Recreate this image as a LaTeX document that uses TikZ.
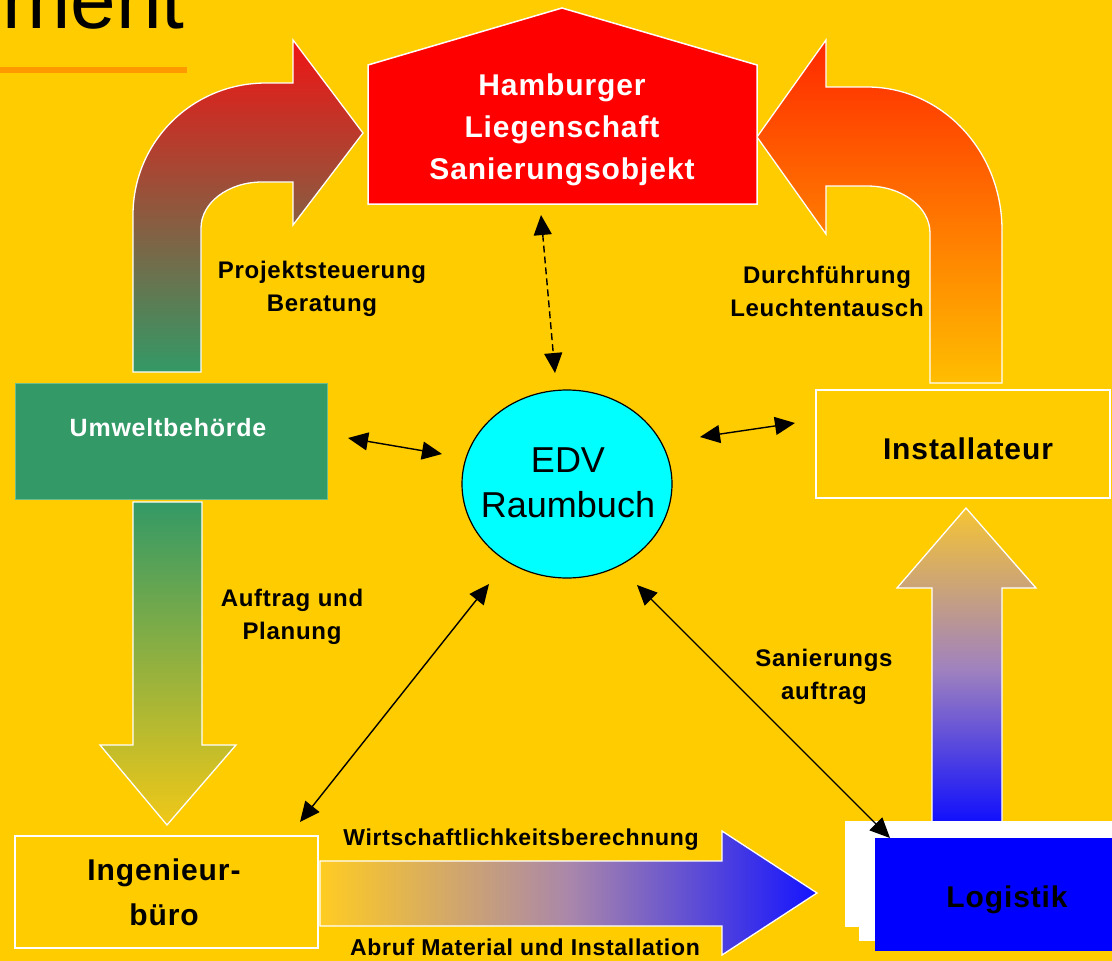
\documentclass[tikz,border=0pt]{standalone}
\usepackage{fontspec}
\setmainfont{Liberation Sans}
\usetikzlibrary{arrows.meta,shapes.geometric}
\definecolor{bg}{RGB}{255,204,0}
\definecolor{titleline}{RGB}{255,153,0}
\definecolor{umgreen}{RGB}{51,153,102}
\definecolor{redA}{RGB}{240,20,20}
\definecolor{orA}{RGB}{255,40,0}
\definecolor{orB}{RGB}{255,190,0}
\definecolor{ylwB}{RGB}{240,200,24}
\definecolor{upTop}{RGB}{245,196,52}
\definecolor{upMid}{RGB}{160,130,190}
\definecolor{blueB}{RGB}{10,10,255}
\definecolor{hzLeft}{RGB}{255,204,34}
\definecolor{hzMid}{RGB}{170,135,170}
\definecolor{hzRight}{RGB}{20,20,255}
\definecolor{houseRed}{RGB}{255,0,0}
\definecolor{edvCyan}{RGB}{0,255,255}
\definecolor{logBlue}{RGB}{0,0,255}
\newcommand\myfs[2]{\fontsize{#1}{#2}\selectfont}
\tikzset{
  bigarrow/.style={draw=white, line width=1.3pt, line join=miter},
  whitebox/.style={draw=white, line width=1.5pt, fill=bg},
  lbl/.style={font=\myfs{24}{33}\bfseries\addfontfeature{LetterSpace=3}, align=center, inner sep=0, text=black},
  boxtxt/.style={font=\myfs{30}{45}\bfseries\addfontfeature{LetterSpace=3}, align=center, inner sep=0},
  dbl/.style={{Triangle[length=20pt,width=18pt]}-{Triangle[length=20pt,width=18pt]}, line width=1.4pt, black},
}
\begin{document}
\begin{tikzpicture}[x=1pt,y=-1pt]
\useasboundingbox (0,0) rectangle (1112,961);
\clip (0,0) rectangle (1112,961);
\fill[bg] (0,0) rectangle (1112,961);

% title fragment
\node[anchor=base east, inner sep=0, font=\myfs{82}{82}] (title) at (185,28) {ment};
\fill[titleline] (0,67) rectangle (187,73);

% curved arrow left (Umweltbehoerde -> house)
\path[bigarrow, top color=redA, bottom color=umgreen]
  (133,372) -- (133,215) .. controls (133,142) and (192,83) .. (266,83) -- (293,83) -- (293,40)
  -- (363,133) -- (293,225) -- (293,182) -- (262,182)
  .. controls (228,182) and (201,203) .. (201,228) -- (201,372) -- cycle;

% curved arrow right (Installateur -> house)
\path[bigarrow, top color=orA, bottom color=orB]
  (1002,383) -- (1002,230) .. controls (1002,151) and (942,87) .. (867,87) -- (826,87) -- (826,40)
  -- (757,137) -- (826,234) -- (826,186) -- (867,186)
  .. controls (902,186) and (930,207) .. (930,233) -- (930,383) -- cycle;

% down arrow (Umweltbehoerde -> Ingenieurbuero)
\path[bigarrow, top color=umgreen, bottom color=ylwB]
  (133,502) -- (202,502) -- (202,745) -- (236,745) -- (167,825) -- (100,745) -- (133,745) -- cycle;

% up arrow (Logistik -> Installateur)
\path[bigarrow, top color=upTop, bottom color=blueB, middle color=upMid]
  (932,829) -- (1002,829) -- (1002,588) -- (1036,588) -- (966,508) -- (897,588) -- (932,588) -- cycle;

% horizontal arrow (Ingenieurbuero -> Logistik)
\path[bigarrow, left color=hzLeft, right color=hzRight, middle color=hzMid]
  (320,861) -- (722,861) -- (722,831) -- (817,893) -- (722,955) -- (722,926) -- (320,926) -- cycle;

% house
\path[draw=white, line width=1.5pt, fill=houseRed]
  (368,204) -- (368,65) -- (562,8) -- (757,65) -- (757,204) -- cycle;
\node[boxtxt, text=white, font=\myfs{30}{42}\bfseries\addfontfeature{LetterSpace=3}] (house) at (562,130)
  {Hamburger\\Liegenschaft\\Sanierungsobjekt};

% Umweltbehoerde
\node[draw={rgb,255:red,110;green,190;blue,140}, line width=0.8pt, fill=umgreen, minimum width=312, minimum height=116, inner sep=0] (umwelt) at (171,441) {};
\node[font=\myfs{25}{30}\bfseries\addfontfeature{LetterSpace=3}, text=white, inner sep=0] (umwelttxt) at (168,428) {Umweltbehörde};

% Installateur
\node[whitebox, minimum width=294, minimum height=108, inner sep=0] (install) at (963,444) {};
\node[boxtxt] (installtxt) at (968,449) {Installateur};

% Ingenieurbuero
\node[whitebox, minimum width=303, minimum height=112, inner sep=0] (ing) at (166.5,892) {};
\node[boxtxt] (ingtxt) at (164,892) {Ingenieur-\\büro};

% Logistik
\fill[white] (845,821) rectangle (1112,927);
\fill[white] (859,927) rectangle (875,941);
\node[fill=logBlue, minimum width=264, minimum height=113, inner sep=0] (logistik) at (1007,894.5) {};
\node[boxtxt] (logtxt) at (1007,900) {Logistik};

% EDV
\node[ellipse, draw=black, line width=1.2pt, fill=edvCyan, minimum width=210, minimum height=188, inner sep=0] (edv) at (567,484) {};
\node[font=\myfs{36}{45}, align=center, inner sep=0] (edvtxt) at (568,483) {EDV\\Raumbuch};

% labels
\node[lbl] (l1) at (322,289) {Projektsteuerung\\Beratung};
\node[lbl] (l2) at (827,291) {Durchführung\\Leuchtentausch};
\node[lbl] (l3) at (292,617) {Auftrag und\\Planung};
\node[lbl] (l4) at (824,677) {Sanierungs\\auftrag};
\node[lbl, font=\myfs{23}{30}\bfseries\addfontfeature{LetterSpace=3}] (l5) at (521,840) {Wirtschaftlichkeitsberechnung};
\node[lbl, font=\myfs{23}{30}\bfseries\addfontfeature{LetterSpace=3}] (l6) at (525,947) {Abruf Material und Installation};

% connectors
\coordinate (d1) at (541,215); \coordinate (d2) at (555,373);
\coordinate (u1) at (348,438); \coordinate (u2) at (442,454);
\coordinate (i1) at (700,437); \coordinate (i2) at (795,423);
\coordinate (g1) at (489,584); \coordinate (g2) at (300,822);
\coordinate (k1) at (637,585); \coordinate (k2) at (890,838);
\draw[dbl, dash pattern=on 7pt off 4pt] (d1) -- (d2);
\draw[dbl] (u1) -- (u2);
\draw[dbl] (i1) -- (i2);
\draw[dbl] (g1) -- (g2);
\draw[dbl] (k1) -- (k2);
\end{tikzpicture}
\end{document}
